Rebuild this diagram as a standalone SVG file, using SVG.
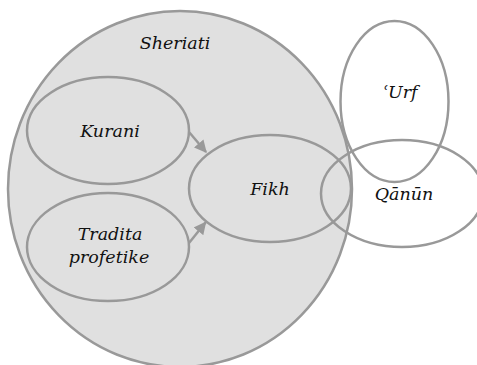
<svg xmlns="http://www.w3.org/2000/svg" width="477" height="365" viewBox="0 0 477 365">
<defs>
<style>
.e{fill:none;stroke:#999;stroke-width:2.5}
.t{font-family:"DejaVu Serif","Liberation Serif",serif;font-style:italic;font-size:17.5px;fill:#111;text-anchor:middle}
.c{stroke:#999;stroke-width:2.5;fill:none}
</style>
<marker id="ah" viewBox="0 0 10 10" refX="9" refY="5" markerWidth="5" markerHeight="5" orient="auto" markerUnits="strokeWidth">
<path d="M0,0 L10,5 L0,10 z" fill="#999"/>
</marker>
</defs>
<rect width="477" height="365" fill="#fff"/>
<g id="sheriati">
<ellipse cx="180" cy="189" rx="172" ry="178" fill="#e0e0e0" stroke="#999" stroke-width="2.5"/>
<text class="t" x="175" y="49">Sheriati</text>
</g>
<g id="kurani">
<ellipse class="e" cx="108" cy="130.5" rx="81" ry="53.5"/>
<text class="t" x="110" y="137">Kurani</text>
</g>
<g id="tradita">
<ellipse class="e" cx="108" cy="247" rx="81" ry="54"/>
<text class="t" x="110" y="240">Tradita</text>
<text class="t" x="109" y="263">profetike</text>
</g>
<g id="fikh">
<ellipse class="e" cx="270" cy="188.5" rx="81" ry="53.5"/>
<text class="t" x="270" y="195">Fikh</text>
</g>
<g id="urf">
<ellipse class="e" cx="394.5" cy="101.5" rx="54" ry="80.5"/>
<text class="t" x="400" y="98">ʿUrf</text>
</g>
<g id="qanun">
<ellipse class="e" cx="402" cy="193.5" rx="81" ry="53.5"/>
<text class="t" x="404" y="200">Qānūn</text>
</g>
<g id="connectors">
<line class="c" x1="189" y1="132" x2="206" y2="152" marker-end="url(#ah)"/>
<line class="c" x1="189" y1="243" x2="205.5" y2="222.5" marker-end="url(#ah)"/>
</g>
</svg>
